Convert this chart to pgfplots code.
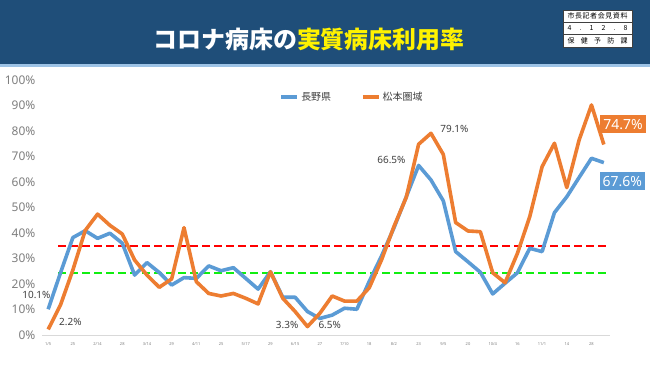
\documentclass[border=0pt]{standalone}
\usepackage{fontspec}
\setmainfont{Noto Sans}
\newfontfamily\jp{Noto Sans CJK JP}
\usepackage{pgfplots}
\pgfplotsset{compat=1.18}
\usepackage{pgfplotstable}

\definecolor{band}{HTML}{1F4E79}
\definecolor{strip}{HTML}{9DC3E6}
\definecolor{nblue}{HTML}{5B9BD5}
\definecolor{morange}{HTML}{ED7D31}
\definecolor{tickgray}{HTML}{7F7F7F}
\definecolor{lblgray}{HTML}{404040}
\definecolor{axgray}{HTML}{D9D9D9}
\definecolor{dgreen}{HTML}{11EE11}

\pgfplotstableread{
i nagano matsumoto
0 10.1 2.2
1 24.4 11.8
2 38.2 25.5
3 40.9 41.0
4 37.9 47.4
5 39.9 43.0
6 36.0 39.6
7 23.5 29.4
8 28.4 23.5
9 24.5 18.7
10 19.6 22.0
11 22.5 42.1
12 22.2 20.9
13 27.1 16.3
14 25.2 15.3
15 26.4 16.3
16 22.2 14.4
17 18.0 12.2
18 24.8 24.8
19 14.8 14.4
20 14.8 9.2
21 9.2 3.3
22 6.5 8.5
23 7.8 15.3
24 10.5 13.3
25 10.1 13.3
26 21.0 18.5
27 31.0 29.5
28 42.0 42.5
29 54.2 54.0
30 66.5 74.8
31 60.8 79.1
32 52.6 70.8
33 32.7 44.1
34 28.7 40.8
35 24.6 40.5
36 16.1 24.4
37 20.3 20.5
38 24.4 32.0
39 34.0 46.4
40 32.7 66.0
41 48.0 75.2
42 54.2 57.8
43 61.8 76.5
44 69.3 90.2
45 67.6 74.7
}\data

\begin{document}
\begin{tikzpicture}[x=1bp,y=1bp]
\fill[white] (0,0) rectangle (650,365);
\fill[band] (0,301) rectangle (650,365);
\fill[strip] (0,298) rectangle (650,301);
\node[font=\jp\bfseries\fontsize{24}{24}\selectfont, text=white, inner sep=0pt] at (309,326) {コロナ病床の\textcolor{yellow}{実質病床利用率}};
% document box
\fill[white] (563,318) rectangle (632,355);
\draw[black!75, line width=0.6bp] (563,318) rectangle (632,355);
\draw[black!75, line width=0.5bp] (563,330.3) -- (632,330.3) (563,342.7) -- (632,342.7);
\node[font=\jp\fontsize{7}{7}\selectfont, inner sep=0pt] at (597.5,348.9) {\makebox[60bp][s]{市\hfill 長\hfill 記\hfill 者\hfill 会\hfill 見\hfill 資\hfill 料}};
\node[font=\jp\fontsize{7}{7}\selectfont, inner sep=0pt] at (597.5,336.5) {\makebox[60bp][s]{4\hfill .\hfill 1\hfill 2\hfill .\hfill 8}};
\node[font=\jp\fontsize{7}{7}\selectfont, inner sep=0pt] at (597.5,324.2) {\makebox[60bp][s]{保\hfill 健\hfill 予\hfill 防\hfill 課}};

\begin{axis}[
  at={(42bp,30bp)}, anchor=south west,
  scale only axis, width=568bp, height=255bp,
  xmin=-0.5, xmax=45.5, ymin=0, ymax=100,
  clip=false,
  axis lines=left,
  x axis line style={-, draw=axgray, line width=0.8bp},
  y axis line style={draw=none},
  tick style={draw=none},
  ytick={0,10,...,100},
  yticklabel={\pgfmathprintnumber{\tick}\%},
  yticklabel style={font=\fontsize{12}{12}\selectfont, text=tickgray, xshift=-1bp},
  xtick={0,2,...,44},
  xticklabels={1/5,25,2/14,28,3/14,29,4/11,25,5/17,29,6/15,27,7/10,18,8/2,23,9/5,20,10/4,16,11/1,14,28},
  xticklabel style={font=\fontsize{4}{4}\selectfont, text=tickgray, yshift=-2bp},
  /pgf/number format/assume math mode=true,
  legend style={draw=none, fill=none, at={(0.546,0.933)}, anchor=center,
    font=\jp\fontsize{10}{10}\selectfont, text=lblgray,
    /tikz/every even column/.append style={column sep=28bp}},
  legend columns=2,
  legend image code/.code={\draw[#1] (0bp,0bp) -- (16bp,0bp);},
]
\addplot[red, line width=2bp, dash pattern=on 7.5bp off 4.5bp, forget plot] coordinates {(0.8,35) (45.3,35)};
\addplot[dgreen, line width=2bp, dash pattern=on 7.5bp off 4.5bp, forget plot] coordinates {(0.8,24.5) (45.3,24.5)};
\addplot[nblue, line width=3.6bp, line join=round, no markers] table[x=i, y=nagano] {\data};
\addlegendentry{長野県}
\addplot[morange, line width=3.6bp, line join=round, no markers] table[x=i, y=matsumoto] {\data};
\addlegendentry{松本圏域}

\node[font=\fontsize{10}{10}\selectfont, text=lblgray] at (axis cs:-0.95,15.9) {10.1\%};
\node[font=\fontsize{10}{10}\selectfont, text=lblgray] at (axis cs:1.8,5.1) {2.2\%};
\node[font=\fontsize{10}{10}\selectfont, text=lblgray] at (axis cs:19.35,3.9) {3.3\%};
\node[font=\fontsize{10}{10}\selectfont, text=lblgray] at (axis cs:22.8,3.9) {6.5\%};
\node[font=\fontsize{10}{10}\selectfont, text=lblgray] at (axis cs:27.8,68.6) {66.5\%};
\node[font=\fontsize{10}{10}\selectfont, text=lblgray] at (axis cs:32.9,80.8) {79.1\%};
\node[fill=morange, text=white, font=\fontsize{14}{14}\selectfont, inner xsep=3bp, inner ysep=4bp] at (axis cs:46.55,82.7) {74.7\%};
\node[fill=nblue, text=white, font=\fontsize{14}{14}\selectfont, inner xsep=3bp, inner ysep=4bp] at (axis cs:46.5,60.3) {67.6\%};
\end{axis}
\end{tikzpicture}
\end{document}
